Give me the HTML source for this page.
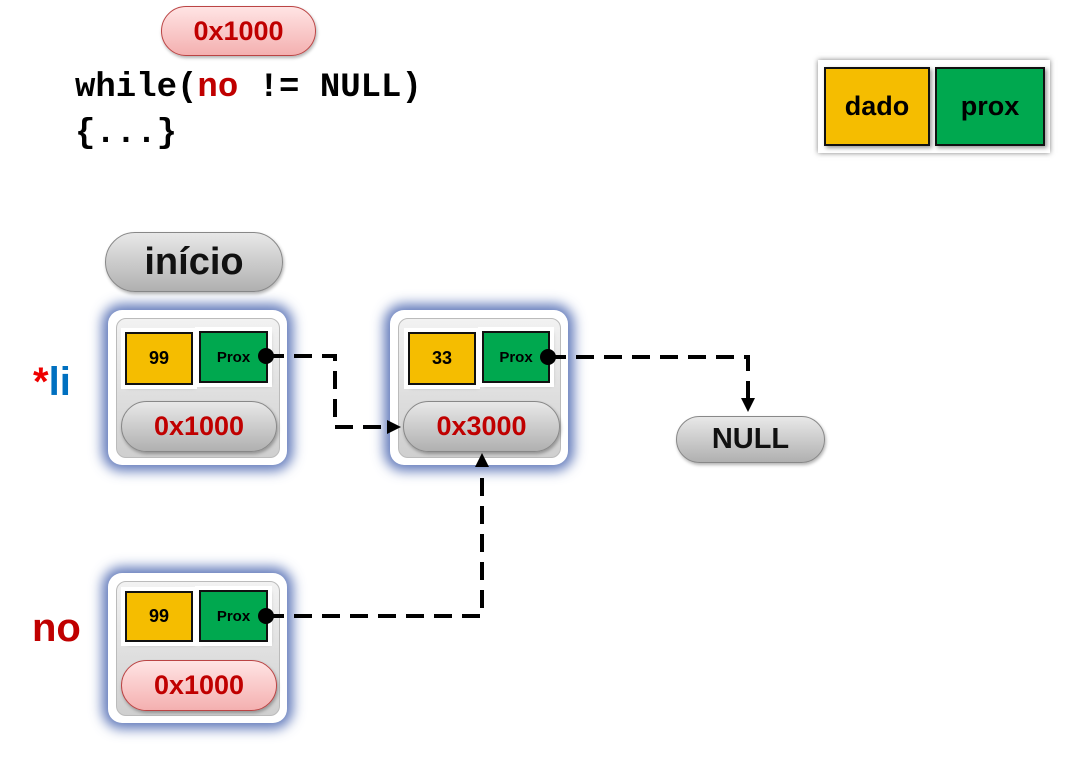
<!DOCTYPE html>
<html><head><style>
body{margin:0;width:1071px;height:782px;background:#fff;position:relative;overflow:hidden;font-family:"Liberation Sans",sans-serif}
.a{position:absolute;box-sizing:border-box}
.node{border-radius:14px;background:#fff;box-shadow:0 0 12px 6px rgba(60,90,170,.8)}
.inner{border-radius:10px;background:linear-gradient(#f2f2f2,#cfcfcf);border:1px solid #bbb}
.y{background:#f5bd00;border:2px solid #111;font-weight:bold;display:flex;align-items:center;justify-content:center;outline:4px solid #fff;box-shadow:2px 2px 4px rgba(0,0,0,.4)}
.g{background:#00a84f;border:2px solid #111;font-weight:bold;display:flex;align-items:center;justify-content:center;outline:4px solid #fff;box-shadow:2px 2px 4px rgba(0,0,0,.4)}
.pill{border-radius:26px;background:linear-gradient(#e8e8e8,#b0b0b0);border:1px solid #888;display:flex;align-items:center;justify-content:center;font-weight:bold;color:#c00000;font-size:27px;box-shadow:1px 2px 3px rgba(0,0,0,.3)}
.pink{background:linear-gradient(#ffe4e4,#f4b0b0);border-color:#b44}
.code{font-family:"Liberation Mono",monospace;font-weight:bold;font-size:34px}
</style></head><body>
<div class="a pill pink" style="left:161px;top:6px;width:155px;height:50px">0x1000</div>
<div class="a code" style="left:75px;top:65px;line-height:46px">while(<span style="color:#c00000">no</span> != NULL)<br>{...}</div>

<div class="a" style="left:818px;top:60px;width:232px;height:93px;background:#fff;box-shadow:0 0 5px rgba(0,0,0,.5)"></div>
<div class="a y" style="left:824px;top:67px;width:106px;height:79px;font-size:27px;outline:none">dado</div>
<div class="a g" style="left:935px;top:67px;width:110px;height:79px;font-size:27px;outline:none">prox</div>

<div class="a pill" style="left:105px;top:232px;width:178px;height:60px;color:#111;font-size:38px;border-radius:30px">início</div>

<div class="a node" style="left:108px;top:310px;width:179px;height:155px"></div>
<div class="a inner" style="left:116px;top:318px;width:164px;height:140px"></div>
<div class="a y" style="left:125px;top:332px;width:68px;height:53px;font-size:18px">99</div>
<div class="a g" style="left:199px;top:331px;width:69px;height:52px;font-size:15px">Prox</div>
<div class="a pill" style="left:121px;top:401px;width:156px;height:51px">0x1000</div>

<div class="a node" style="left:390px;top:310px;width:178px;height:155px"></div>
<div class="a inner" style="left:398px;top:318px;width:163px;height:140px"></div>
<div class="a y" style="left:408px;top:332px;width:68px;height:53px;font-size:18px">33</div>
<div class="a g" style="left:482px;top:331px;width:68px;height:52px;font-size:15px">Prox</div>
<div class="a pill" style="left:403px;top:401px;width:157px;height:51px">0x3000</div>

<div class="a node" style="left:108px;top:573px;width:179px;height:150px"></div>
<div class="a inner" style="left:116px;top:581px;width:164px;height:135px"></div>
<div class="a y" style="left:125px;top:591px;width:68px;height:51px;font-size:18px">99</div>
<div class="a g" style="left:199px;top:590px;width:69px;height:52px;font-size:15px">Prox</div>
<div class="a pill pink" style="left:121px;top:660px;width:156px;height:51px">0x1000</div>

<div class="a pill" style="left:676px;top:416px;width:149px;height:47px;color:#111;font-size:29px">NULL</div>

<div class="a" style="left:33px;top:360px;font-weight:bold;font-size:40px"><span style="color:#e00">*</span><span style="color:#0070c0">li</span></div>
<div class="a" style="left:32px;top:606px;font-weight:bold;font-size:40px;color:#c00000">no</div>

<svg class="a" style="left:0;top:0" width="1071" height="782">
<g stroke="#000" stroke-width="4" fill="none" stroke-dasharray="18 10">
<path d="M266 356H335V427H390"/>
<path d="M548 357H748V402"/>
<path d="M266 616H482V468"/>
</g>
<g fill="#000">
<circle cx="266" cy="356" r="8"/><circle cx="548" cy="357" r="8"/><circle cx="266" cy="616" r="8"/>
<path d="M401 427l-14-7v14z"/><path d="M748 412l-7-14h14z"/><path d="M482 453l-7 14h14z"/>
</g>
</svg>
</body></html>
